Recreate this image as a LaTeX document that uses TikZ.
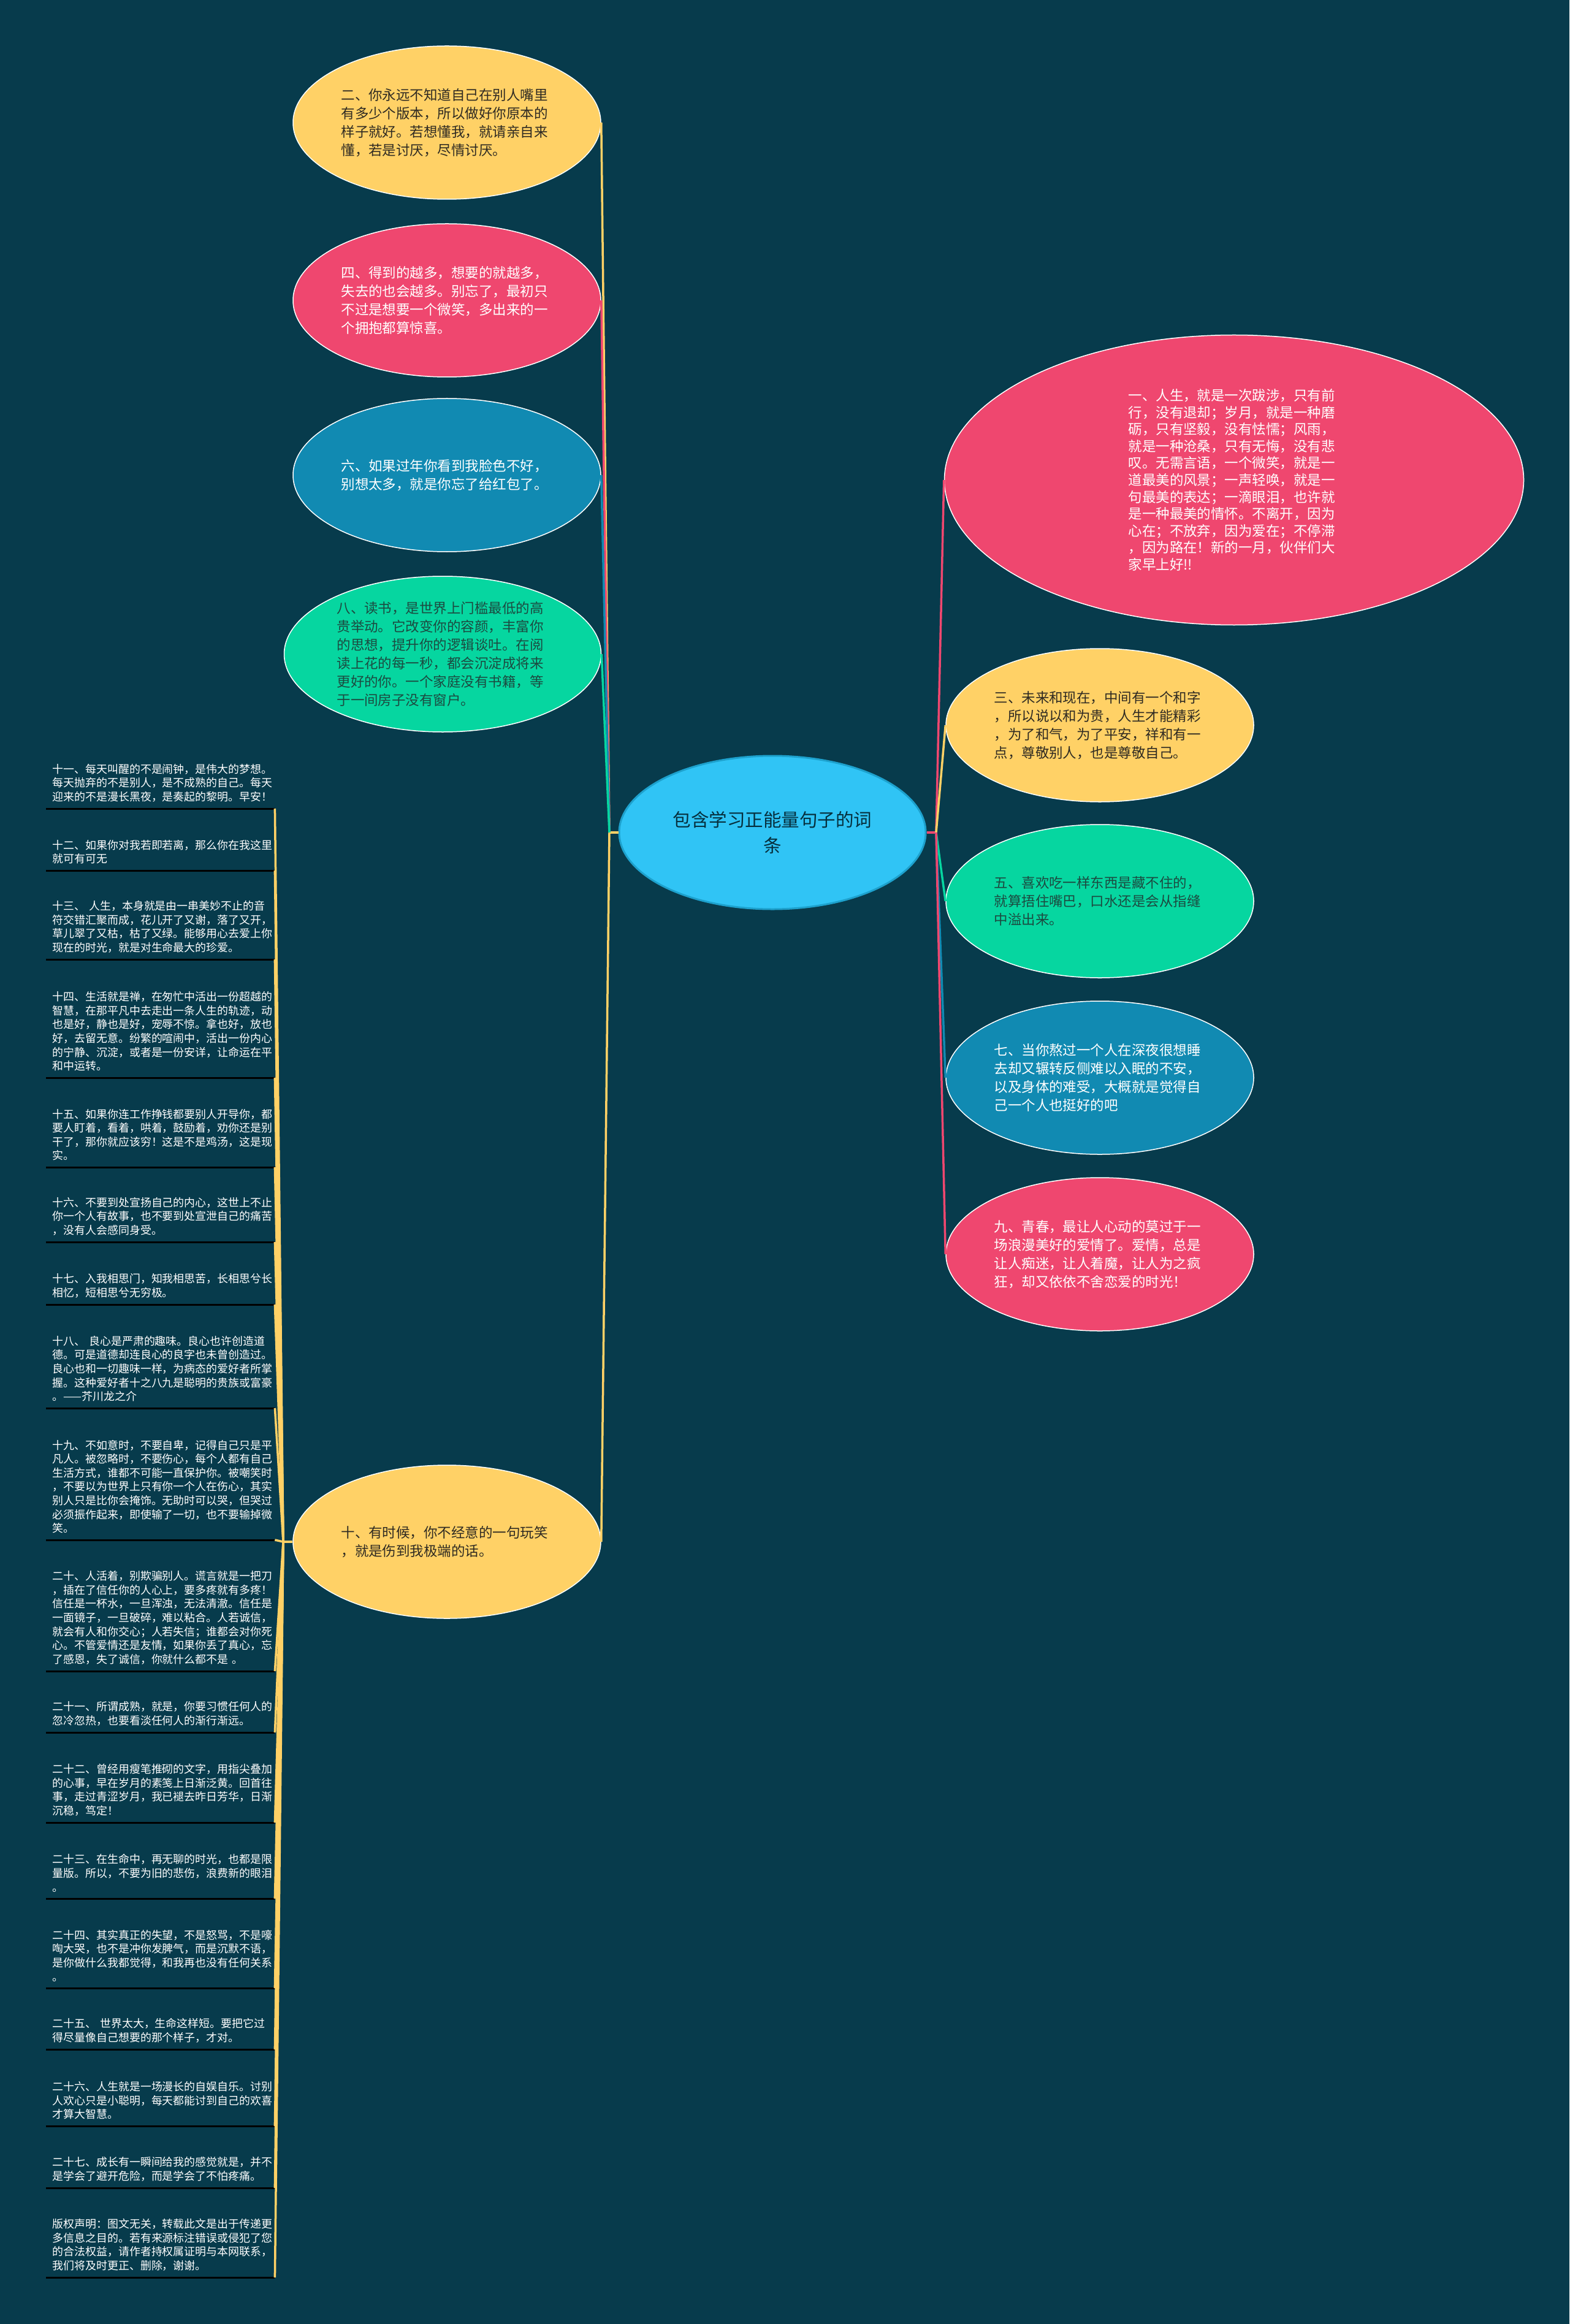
\documentclass[tikz,border=0pt]{standalone}
\usepackage{fontspec}
\setmainfont{Noto Sans CJK SC}
\usetikzlibrary{shapes.geometric}
\definecolor{bgteal}{HTML}{073B4C}
\definecolor{cyel}{HTML}{FFD166}
\definecolor{cpink}{HTML}{EF476F}
\definecolor{cblue}{HTML}{118AB2}
\definecolor{cgreen}{HTML}{06D6A0}
\definecolor{csky}{HTML}{30C4F5}
\definecolor{cdark}{HTML}{2E2A22}
\definecolor{cdeep}{HTML}{1C4A40}
\begin{document}
\begin{tikzpicture}[
  bubble/.style={ellipse,draw=white,line width=0.015cm,inner sep=0pt,minimum width=5.02cm,minimum height=2.50cm,
    text width=3.45cm,align=left,font=\fontsize{6.4}{8.5}\selectfont},
  leaf/.style={anchor=south west,inner xsep=0.1cm,inner ysep=0.1cm,text width=3.52cm,align=left,text=white,
    font=\fontsize{5.1}{6.44}\selectfont},
  link/.style={line width=0.035cm},
  under/.style={line width=0.03cm,black}]
\fill[bgteal] (0,0) rectangle (25.60,-37.91);
% root
\node[ellipse,fill=csky,draw=cblue!60!csky,line width=0.03cm,minimum width=5.0cm,minimum height=2.5cm,inner sep=0pt,
  align=center,text=bgteal!80!black,font=\fontsize{8.4}{11.9}\selectfont] (root) at (12.60,-13.58) {包含学习正能量句子的词\\条};
% left branch
\node[bubble,fill=cyel,text=cdark] (q2) at (7.29,-2.00) {二、你永远不知道自己在别人嘴里\\有多少个版本，所以做好你原本的\\样子就好。若想懂我，就请亲自来\\懂，若是讨厌，尽情讨厌。};
\node[bubble,fill=cpink,text=white] (q4) at (7.29,-4.90) {四、得到的越多，想要的就越多，\\失去的也会越多。别忘了，最初只\\不过是想要一个微笑，多出来的一\\个拥抱都算惊喜。};
\node[bubble,fill=cblue,text=white] (q6) at (7.29,-7.75) {六、如果过年你看到我脸色不好，\\别想太多，就是你忘了给红包了。};
\node[bubble,fill=cgreen,text=cdeep,minimum width=5.17cm,minimum height=2.54cm] (q8) at (7.22,-10.67) {八、读书，是世界上门槛最低的高\\贵举动。它改变你的容颜，丰富你\\的思想，提升你的逻辑谈吐。在阅\\读上花的每一秒，都会沉淀成将来\\更好的你。一个家庭没有书籍，等\\于一间房子没有窗户。};
\node[bubble,fill=cyel,text=cdark] (q10) at (7.29,-25.15) {十、有时候，你不经意的一句玩笑\\，就是伤到我极端的话。};
% right branch
\node[bubble,fill=cpink,text=white,minimum width=9.45cm,minimum height=4.73cm,font=\fontsize{6.4}{7.85}\selectfont] (q1) at (20.13,-7.83) {一、人生，就是一次跋涉，只有前\\行，没有退却；岁月，就是一种磨\\砺，只有坚毅，没有怯懦；风雨，\\就是一种沧桑，只有无悔，没有悲\\叹。无需言语，一个微笑，就是一\\道最美的风景；一声轻唤，就是一\\句最美的表达；一滴眼泪，也许就\\是一种最美的情怀。不离开，因为\\心在；不放弃，因为爱在；不停滞\\，因为路在！新的一月，伙伴们大\\家早上好!!};
\node[bubble,fill=cyel,text=cdark] (q3) at (17.94,-11.83) {三、未来和现在，中间有一个和字\\，所以说以和为贵，人生才能精彩\\，为了和气，为了平安，祥和有一\\点，尊敬别人，也是尊敬自己。};
\node[bubble,fill=cgreen,text=cdeep] (q5) at (17.94,-14.70) {五、喜欢吃一样东西是藏不住的，\\就算捂住嘴巴，口水还是会从指缝\\中溢出来。};
\node[bubble,fill=cblue,text=white] (q7) at (17.94,-17.58) {七、当你熬过一个人在深夜很想睡\\去却又辗转反侧难以入眠的不安，\\以及身体的难受，大概就是觉得自\\己一个人也挺好的吧};
\node[bubble,fill=cpink,text=white] (q9) at (17.94,-20.46) {九、青春，最让人心动的莫过于一\\场浪漫美好的爱情了。爱情，总是\\让人痴迷，让人着魔，让人为之疯\\狂，却又依依不舍恋爱的时光！};
% leaves of ten
\node[leaf] (l11) at (0.75,-13.19) {十一、每天叫醒的不是闹钟，是伟大的梦想。\\每天抛弃的不是别人，是不成熟的自己。每天\\迎来的不是漫长黑夜，是奏起的黎明。早安！};
\node[leaf] (l12) at (0.75,-14.20) {十二、如果你对我若即若离，那么你在我这里\\就可有可无};
\node[leaf] (l13) at (0.75,-15.65) {十三、 人生，本身就是由一串美妙不止的音\\符交错汇聚而成，花儿开了又谢，落了又开，\\草儿翠了又枯，枯了又绿。能够用心去爱上你\\现在的时光，就是对生命最大的珍爱。};
\node[leaf] (l14) at (0.75,-17.58) {十四、生活就是禅，在匆忙中活出一份超越的\\智慧，在那平凡中去走出一条人生的轨迹，动\\也是好，静也是好，宠辱不惊。拿也好，放也\\好，去留无意。纷繁的喧闹中，活出一份内心\\的宁静、沉淀，或者是一份安详，让命运在平\\和中运转。};
\node[leaf] (l15) at (0.75,-19.04) {十五、如果你连工作挣钱都要别人开导你，都\\要人盯着，看着，哄着，鼓励着，劝你还是别\\干了，那你就应该穷！这是不是鸡汤，这是现\\实。};
\node[leaf] (l16) at (0.75,-20.26) {十六、不要到处宣扬自己的内心，这世上不止\\你一个人有故事，也不要到处宣泄自己的痛苦\\，没有人会感同身受。};
\node[leaf] (l17) at (0.75,-21.28) {十七、入我相思门，知我相思苦，长相思兮长\\相忆，短相思兮无穷极。};
\node[leaf] (l18) at (0.75,-22.97) {十八、 良心是严肃的趣味。良心也许创造道\\德。可是道德却连良心的良字也未曾创造过。\\良心也和一切趣味一样，为病态的爱好者所掌\\握。这种爱好者十之八九是聪明的贵族或富豪\\。——芥川龙之介};
\node[leaf] (l19) at (0.75,-25.12) {十九、不如意时，不要自卑，记得自己只是平\\凡人。被忽略时，不要伤心，每个人都有自己\\生活方式，谁都不可能一直保护你。被嘲笑时\\，不要以为世界上只有你一个人在伤心，其实\\别人只是比你会掩饰。无助时可以哭，但哭过\\必须振作起来，即使输了一切，也不要输掉微\\笑。};
\node[leaf] (l20) at (0.75,-27.26) {二十、人活着，别欺骗别人。谎言就是一把刀\\，插在了信任你的人心上，要多疼就有多疼！\\信任是一杯水，一旦浑浊，无法清澈。信任是\\一面镜子，一旦破碎，难以粘合。人若诚信，\\就会有人和你交心；人若失信；谁都会对你死\\心。不管爱情还是友情，如果你丢了真心，忘\\了感恩，失了诚信，你就什么都不是 。};
\node[leaf] (l21) at (0.75,-28.26) {二十一、所谓成熟，就是，你要习惯任何人的\\忽冷忽热，也要看淡任何人的渐行渐远。};
\node[leaf] (l22) at (0.75,-29.73) {二十二、曾经用瘦笔推砌的文字，用指尖叠加\\的心事，早在岁月的素笺上日渐泛黄。回首往\\事，走过青涩岁月，我已褪去昨日芳华，日渐\\沉稳，笃定！};
\node[leaf] (l23) at (0.75,-30.97) {二十三、在生命中，再无聊的时光，也都是限\\量版。所以，不要为旧的悲伤，浪费新的眼泪\\。};
\node[leaf] (l24) at (0.75,-32.43) {二十四、其实真正的失望，不是怒骂，不是嚎\\啕大哭，也不是冲你发脾气，而是沉默不语，\\是你做什么我都觉得，和我再也没有任何关系\\。};
\node[leaf] (l25) at (0.75,-33.43) {二十五、 世界太大，生命这样短。要把它过\\得尽量像自己想要的那个样子，才对。};
\node[leaf] (l26) at (0.75,-34.68) {二十六、人生就是一场漫长的自娱自乐。讨别\\人欢心只是小聪明，每天都能讨到自己的欢喜\\才算大智慧。};
\node[leaf] (l27) at (0.75,-35.69) {二十七、成长有一瞬间给我的感觉就是，并不\\是学会了避开危险，而是学会了不怕疼痛。};
\node[leaf] (lcr) at (0.75,-37.15) {版权声明：图文无关，转载此文是出于传递更\\多信息之目的。若有来源标注错误或侵犯了您\\的合法权益，请作者持权属证明与本网联系，\\我们将及时更正、删除，谢谢。};
% links
\coordinate (jl) at (9.94,-13.58);
\coordinate (jr) at (15.27,-13.58);
\coordinate (jt) at (4.62,-25.15);
\draw[link,color=cyel] (root.west) -- (jl);
\draw[link,color=cpink] (root.east) -- (jr);
\foreach \n/\c in {q2/cyel,q4/cpink,q6/cblue,q8/cgreen,q10/cyel}
  \draw[link,color=\c] (jl) -- (\n.east);
\foreach \n/\c in {q1/cpink,q3/cyel,q5/cgreen,q7/cblue,q9/cpink}
  \draw[link,color=\c] (jr) -- (\n.west);
\draw[link,color=cyel] (q10.west) -- (jt);
\foreach \n in {l11,l12,l13,l14,l15,l16,l17,l18,l19,l20,l21,l22,l23,l24,l25,l26,l27,lcr} {
  \draw[under] (\n.south west) -- (\n.south east);
  \draw[link,color=cyel] (jt) -- (\n.south east);}
\end{tikzpicture}
\end{document}
